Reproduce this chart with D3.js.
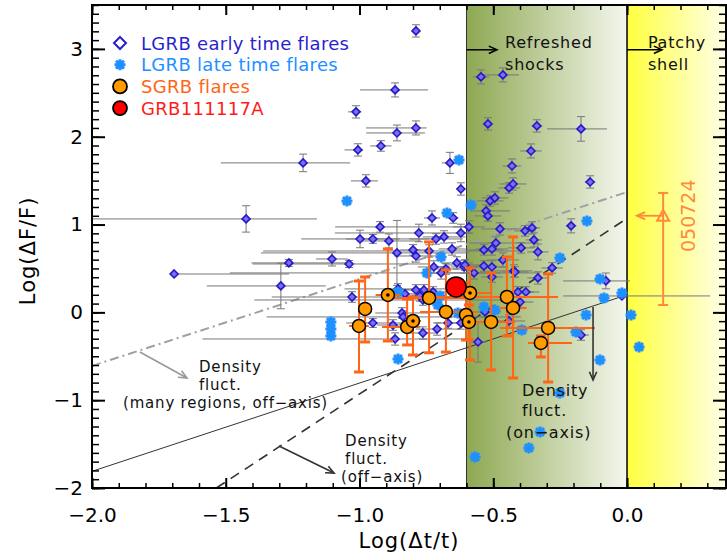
<!DOCTYPE html>
<html>
<head>
<meta charset="utf-8">
<script src="https://cdn.jsdelivr.net/npm/d3@7"></script>
<style>
  body { margin: 0; background: #fff; }
  svg { display: block; }
  text { font-family: "DejaVu Sans", sans-serif; }
</style>
</head>
<body>
<div id="chart"></div>
<script>
// --------------- Data --------------- //

// LGRB early time flares: [logDt/t, logDF/F, xErrMinus, xErrPlus, yErr]
const lgrbEarly = [
  [-0.789, 3.205, 0.01, 0.01, 0.07], [-0.867, 2.533, 0.131, 0.123, 0.08], [-1.013, 2.283, 0.03, 0.02, 0.07],
  [-0.546, 2.681, 0.03, 0.03, 0.08], [-0.464, 2.704, 0.09, 0.06, 0.08], [-1.006, 1.850, 0.05, 0.02, 0.07],
  [-0.860, 2.043, 0.115, 0.105, 0.09], [-0.789, 2.100, 0.187, 0.04, 0.08], [-0.920, 1.895, 0.04, 0.04, 0.06],
  [-0.976, 1.497, 0.056, 0.045, 0.07], [-1.211, 1.702, 0.307, 0.176, 0.10], [-1.424, 1.064, 0.576, 0.265, 0.15],
  [-0.662, 1.702, 0.03, 0.035, 0.12], [-0.621, 1.405, 0.015, 0.015, 0.07], [-0.520, 2.146, 0.02, 0.02, 0.07],
  [-0.337, 2.123, 0.02, 0.02, 0.07], [-0.172, 2.089, 0.127, 0.097, 0.14], [-0.359, 1.838, 0.04, 0.04, 0.08],
  [-0.430, 1.667, 0.035, 0.035, 0.08], [-0.138, 1.485, 0.02, 0.02, 0.07], [-0.441, 1.417, 0.04, 0.04, 0.06],
  [-0.426, 1.462, 0.05, 0.05, 0.07], [-0.512, 1.269, 0.05, 0.05, 0.06], [-0.494, 1.303, 0.05, 0.05, 0.07],
  [-0.527, 1.155, 0.06, 0.09, 0.07], [-0.520, 1.098, 0.05, 0.05, 0.06], [-0.591, 0.973, 0.06, 0.06, 0.07],
  [-0.475, 0.950, 0.07, 0.08, 0.07], [-0.381, 0.928, 0.04, 0.04, 0.06], [-0.355, 0.962, 0.03, 0.03, 0.07],
  [-0.209, 0.985, 0.02, 0.02, 0.08], [-0.348, 0.825, 0.03, 0.03, 0.08], [-0.490, 0.790, 0.10, 0.16, 0.07],
  [-0.396, 0.734, 0.05, 0.05, 0.06], [-0.333, 0.688, 0.04, 0.04, 0.09], [-0.729, 1.075, 0.03, 0.03, 0.08],
  [-0.650, 1.075, 0.02, 0.02, 0.06], [-0.923, 0.973, 0.168, 0.336, 0.06], [-0.778, 0.904, 0.314, 0.20, 0.10],
  [-0.621, 0.904, 0.02, 0.02, 0.10], [-0.998, 0.836, 0.22, 0.26, 0.10], [-0.950, 0.836, 0.10, 0.10, 0.05],
  [-0.890, 0.813, 0.12, 0.12, 0.08], [-0.714, 0.836, 0.10, 0.10, 0.06], [-0.684, 0.859, 0.08, 0.08, 0.07],
  [-0.860, 0.677, 0.508, 0.27, 0.37], [-0.800, 0.711, 0.05, 0.05, 0.06], [-0.789, 0.642, 0.08, 0.08, 0.07],
  [-0.740, 0.699, 0.62, 0.34, 0.07], [-0.654, 0.722, 0.05, 0.05, 0.07], [-1.103, 0.608, 0.06, 0.06, 0.08],
  [-1.264, 0.563, 0.14, 0.23, 0.04], [-1.039, 0.551, 0.36, 0.30, 0.04], [-1.294, 0.301, 0.277, 0.168, 0.26],
  [-1.693, 0.437, 0.0, 0.43, 0.0], [-0.722, 0.517, 0.06, 0.06, 0.07], [-0.677, 0.494, 0.05, 0.05, 0.06],
  [-0.695, 0.449, 0.79, 0.37, 0.07], [-0.636, 0.563, 0.06, 0.06, 0.07], [-0.609, 0.517, 0.05, 0.05, 0.07],
  [-0.856, 0.267, 0.20, 0.20, 0.06], [-0.535, 0.711, 0.07, 0.07, 0.06], [-0.505, 0.722, 0.06, 0.06, 0.07],
  [-0.464, 0.597, 0.06, 0.06, 0.08], [-0.423, 0.472, 0.07, 0.07, 0.07], [-0.606, 0.540, 0.08, 0.08, 0.06],
  [-0.572, 0.449, 0.10, 0.10, 0.07], [-0.535, 0.528, 0.05, 0.05, 0.06], [-0.505, 0.517, 0.06, 0.06, 0.07],
  [-0.419, 0.460, 0.05, 0.05, 0.06], [-0.505, 0.403, 0.04, 0.04, 0.06], [-0.333, 0.392, 0.04, 0.04, 0.07],
  [-0.280, 0.506, 0.04, 0.04, 0.06], [-0.408, 0.232, 0.06, 0.06, 0.06], [-0.378, 0.232, 0.05, 0.05, 0.06],
  [-0.400, 0.118, 0.05, 0.05, 0.06], [-0.531, 0.005, 0.06, 0.06, 0.06], [-0.441, -0.098, 0.06, 0.06, 0.07],
  [-0.557, -0.337, 0.03, 0.03, 0.23], [-0.079, 0.358, 0.16, 0.09, 0.09], [-0.172, -0.258, 0.03, 0.03, 0.06],
  [-0.019, 0.187, 0.22, 0.33, 0.0], [-0.621, -0.121, 0.04, 0.04, 0.07], [-0.669, -0.121, 0.05, 0.05, 0.06],
  [-0.763, -0.235, 0.05, 0.05, 0.07], [-0.867, -0.303, 0.72, 0.28, 0.07], [-0.841, -0.007, 0.10, 0.10, 0.06],
  [-0.759, 0.255, 0.05, 0.05, 0.06], [-0.725, 0.232, 0.05, 0.05, 0.06], [-1.028, 0.175, 0.30, 0.30, 0.06],
  [-0.830, 0.210, 0.05, 0.05, 0.05], [-0.774, 0.187, 0.05, 0.05, 0.06], [-0.763, 0.141, 0.63, 0.29, 0.06],
  [-0.837, -0.052, 0.51, 0.44, 0.07], [-0.950, -0.121, 0.10, 0.10, 0.05], [-0.875, -0.144, 0.06, 0.06, 0.06],
  [-0.710, -0.190, 0.08, 0.08, 0.07], [-0.789, 0.255, 0.05, 0.05, 0.06]
];

// LGRB late time flares: [logDt/t, logDF/F]
const lgrbLate = [
  [-1.047, 1.269], [-0.628, 1.736], [-0.673, 1.132], [-0.583, 1.223], [-0.150, 1.041], [-0.251, 0.620],
  [-0.695, 0.631], [-0.748, 0.449], [-0.699, 0.187], [-0.707, 0.084], [-0.535, 0.061], [-0.494, 0.027],
  [-0.393, -0.201], [-0.191, -0.224], [-0.153, -0.030], [-0.086, 0.164], [-0.019, 0.221], [0.015, -0.030],
  [0.045, -0.394], [-0.101, -0.542], [-0.251, -0.918], [-0.325, -1.362], [-0.367, -1.544], [-0.568, -1.647],
  [-0.856, -0.531], [-1.107, -0.11], [-1.107, -0.19], [-1.107, -0.27], [-0.101, 0.381], [-0.632, -0.007],
  [-0.856, 0.232]
];

// SGRB flares: [x, y, xLow, xHigh, yLow, yHigh, centreDot]
const sgrb = [
  [-1.002, -0.155, -1.039, -0.965, -0.679, 0.357, 0],
  [-0.979, 0.039, -1.000, -0.960, -0.337, 0.403, 0],
  [-0.894, 0.198, -0.940, -0.850, -0.326, 0.722, 1],
  [-0.822, -0.166, -0.916, -0.774, -0.371, 0.153, 0],
  [-0.800, -0.098, -0.830, -0.770, -0.485, 0.175, 1],
  [-0.740, 0.164, -0.880, -0.600, -0.460, 0.802, 0],
  [-0.677, 0.005, -0.774, -0.561, -0.452, 0.483, 0],
  [-0.602, -0.030, -0.630, -0.570, -0.315, 0.335, 0],
  [-0.587, 0.221, -0.654, -0.512, -0.542, 0.506, 1],
  [-0.591, -0.109, -0.620, -0.560, -0.310, 0.084, 1],
  [-0.508, -0.109, -0.568, -0.419, -0.656, 0.449, 0],
  [-0.449, 0.175, -0.736, -0.258, -0.269, 0.631, 0],
  [-0.426, 0.050, -0.476, -0.376, -0.747, 0.859, 0],
  [-0.295, -0.177, -0.475, -0.120, -0.793, 0.437, 0],
  [-0.322, -0.348, -0.370, -0.206, -0.508, -0.269, 0]
];

// GRB111117A
const grb111117a = [-0.639, 0.29];

// GRB 050724: [x, y, xUpperLimit, yLow, yHigh]
const grb050724 = [0.135, 1.10, 0.037, 0.084, 1.36];

// model lines (endpoints)
const lineManyRegions = [[-2, -0.61], [0, 1.37]];
const lineOnAxis = [[-2, -1.81], [0, 0.2]];
const lineOffAxis = [[-1.535, -2], [0, 1.07]];

// shaded regimes
const refreshedRange = [-0.6, 0.0];
const patchyRange = [0.0, 0.37];

// ticks
const xMajor = [-2, -1.5, -1, -0.5, 0];
const yMajor = [-2, -1, 0, 1, 2, 3];

// --------------- Basic Setup --------------- //

const width = 727, height = 560;

const svg = d3.select("#chart")
    .append("svg")
    .attr("width", width)
    .attr("height", height);

const x = d3.scaleLinear().domain([-2, 0.37]).range([92, 726]);
const y = d3.scaleLinear().domain([-2, 3.5]).range([488, 5]);

const defs = svg.append("defs");
const gGreen = defs.append("linearGradient").attr("id", "gGreen");
gGreen.append("stop").attr("offset", 0).attr("stop-color", "#8ea852");
gGreen.append("stop").attr("offset", 1).attr("stop-color", "#f4f7ee");
const gYellow = defs.append("linearGradient").attr("id", "gYellow");
gYellow.append("stop").attr("offset", 0).attr("stop-color", "#ffff40");
gYellow.append("stop").attr("offset", 1).attr("stop-color", "#ffffe8");
defs.append("clipPath").attr("id", "plotClip")
    .append("rect")
    .attr("x", x(-2)).attr("y", y(3.5))
    .attr("width", x(0.37) - x(-2)).attr("height", y(-2) - y(3.5));

// --------------- Background regions --------------- //

svg.append("rect")
    .attr("x", x(refreshedRange[0])).attr("y", y(3.5))
    .attr("width", x(refreshedRange[1]) - x(refreshedRange[0]))
    .attr("height", y(-2) - y(3.5))
    .attr("fill", "url(#gGreen)");
svg.append("rect")
    .attr("x", x(patchyRange[0])).attr("y", y(3.5))
    .attr("width", x(patchyRange[1]) - x(patchyRange[0]))
    .attr("height", y(-2) - y(3.5))
    .attr("fill", "url(#gYellow)");
svg.append("line")
    .attr("x1", x(-0.6)).attr("x2", x(-0.6)).attr("y1", y(3.5)).attr("y2", y(-2))
    .attr("stroke", "#333").attr("stroke-width", 1);
svg.append("line")
    .attr("x1", x(0)).attr("x2", x(0)).attr("y1", y(3.5)).attr("y2", y(-2))
    .attr("stroke", "#000").attr("stroke-width", 1.5);

const plot = svg.append("g").attr("clip-path", "url(#plotClip)");

// --------------- Model lines --------------- //

const line = d3.line().x(d => x(d[0])).y(d => y(d[1]));
plot.append("path").attr("d", line(lineManyRegions))
    .attr("fill", "none").attr("stroke", "#a0a0a0").attr("stroke-width", 2)
    .attr("stroke-dasharray", "9,4,2,4");
plot.append("path").attr("d", line(lineOnAxis))
    .attr("fill", "none").attr("stroke", "#333").attr("stroke-width", 1);
plot.append("path").attr("d", line(lineOffAxis))
    .attr("fill", "none").attr("stroke", "#333").attr("stroke-width", 1.6)
    .attr("stroke-dasharray", "10,7");

// --------------- LGRB early: error bars + diamonds --------------- //

const eb = plot.append("g").attr("stroke", "#777").attr("stroke-width", 1);
for (const d of lgrbEarly) {
    eb.append("line")
        .attr("x1", x(d[0] - d[2])).attr("x2", x(d[0] + d[3]))
        .attr("y1", y(d[1])).attr("y2", y(d[1]));
    if (d[4] > 0) {
        const top = y(d[1] + d[4]), bot = y(d[1] - d[4]), cx = x(d[0]);
        eb.append("line").attr("x1", cx).attr("x2", cx).attr("y1", top).attr("y2", bot);
        eb.append("line").attr("x1", cx - 4).attr("x2", cx + 4).attr("y1", top).attr("y2", top);
        eb.append("line").attr("x1", cx - 4).attr("x2", cx + 4).attr("y1", bot).attr("y2", bot);
    }
}

const diamond = r => `M0,${-r}L${r},0L0,${r}L${-r},0Z`;
plot.append("g").selectAll("path")
    .data(lgrbEarly)
    .join("path")
    .attr("d", diamond(4))
    .attr("transform", d => `translate(${x(d[0])},${y(d[1])})`)
    .attr("fill", "#7b6ef0").attr("stroke", "#2418c8").attr("stroke-width", 1.6);

// --------------- LGRB late: asterisks --------------- //

const asterisk = r => {
    const k = r * 0.72;
    return `M${-r},0L${r},0M0,${-r}L0,${r}M${-k},${-k}L${k},${k}M${-k},${k}L${k},${-k}`;
};
plot.append("g").selectAll("path")
    .data(lgrbLate)
    .join("path")
    .attr("d", asterisk(5.5))
    .attr("transform", d => `translate(${x(d[0])},${y(d[1])})`)
    .attr("fill", "none").attr("stroke", "#1e90ff").attr("stroke-width", 3);

// --------------- SGRB flares --------------- //

const orange = "#ff6516";
const sb = plot.append("g").attr("stroke", orange).attr("stroke-width", 2);
for (const d of sgrb) {
    const cx = x(d[0]), cy = y(d[1]);
    sb.append("line").attr("x1", x(d[2])).attr("x2", x(d[3])).attr("y1", cy).attr("y2", cy);
    sb.append("line").attr("x1", cx).attr("x2", cx).attr("y1", y(d[5])).attr("y2", y(d[4]));
    for (const v of [d[4], d[5]]) {
        sb.append("line").attr("x1", cx - 5).attr("x2", cx + 5).attr("y1", y(v)).attr("y2", y(v))
            .attr("stroke-width", 3);
    }
}
plot.append("g").selectAll("circle")
    .data(sgrb)
    .join("circle")
    .attr("cx", d => x(d[0])).attr("cy", d => y(d[1]))
    .attr("r", 6.5)
    .attr("fill", "#ff9a00").attr("stroke", "#000").attr("stroke-width", 1.5);
plot.append("g").selectAll("circle")
    .data(sgrb.filter(d => d[6]))
    .join("circle")
    .attr("cx", d => x(d[0])).attr("cy", d => y(d[1]))
    .attr("r", 1.8).attr("fill", "#000");

// GRB111117A
plot.append("circle")
    .attr("cx", x(grb111117a[0])).attr("cy", y(grb111117a[1]))
    .attr("r", 10)
    .attr("fill", "#ff0000").attr("stroke", "#000").attr("stroke-width", 1.5);

// --------------- Arrows helper --------------- //

function arrow(g, x1, y1, x2, y2, color, w) {
    const a = Math.atan2(y2 - y1, x2 - x1), L = 9, s = 0.42;
    g.append("line").attr("x1", x1).attr("y1", y1).attr("x2", x2).attr("y2", y2)
        .attr("stroke", color).attr("stroke-width", w);
    g.append("path")
        .attr("d", `M${x2 - L * Math.cos(a - s)},${y2 - L * Math.sin(a - s)}L${x2},${y2}L${x2 - L * Math.cos(a + s)},${y2 - L * Math.sin(a + s)}`)
        .attr("fill", "none").attr("stroke", color).attr("stroke-width", w);
}

// GRB 050724
const light = "#ff8a3d";
const g05 = svg.append("g");
{
    const [px, py, xl, ylo, yhi] = grb050724;
    g05.append("line").attr("x1", x(px)).attr("x2", x(px)).attr("y1", y(yhi)).attr("y2", y(ylo))
        .attr("stroke", light).attr("stroke-width", 2);
    for (const v of [ylo, yhi]) {
        g05.append("line").attr("x1", x(px) - 5).attr("x2", x(px) + 5).attr("y1", y(v)).attr("y2", y(v))
            .attr("stroke", light).attr("stroke-width", 2);
    }
    arrow(g05, x(px), y(py), x(xl), y(py), light, 1.8);
    g05.append("path")
        .attr("d", "M0,-6L6,5L-6,5Z")
        .attr("transform", `translate(${x(px)},${y(py)})`)
        .attr("fill", "none").attr("stroke", light).attr("stroke-width", 2);
    g05.append("text")
        .attr("transform", `translate(${x(0.224) + 8},${y(py)}) rotate(-90)`)
        .attr("text-anchor", "middle")
        .attr("font-size", 19)
        .attr("fill", light)
        .text("050724");
}

// --------------- Annotations --------------- //

const ann = svg.append("g");
arrow(ann, x(-0.6), y(2.99), x(-0.486), y(2.99), "#000", 1.5);
arrow(ann, x(0), y(2.99), x(0.131), y(2.99), "#000", 1.5);
arrow(ann, x(-1.821), y(-0.451), x(-1.645), y(-0.747), "#999", 1.6);
arrow(ann, x(-1.301), y(-1.522), x(-1.095), y(-1.83), "#333", 1.6);
arrow(ann, x(-0.127), y(0.06), x(-0.127), y(-0.77), "#333", 1.6);

// [text, x, y, font size]
const annotations = [
    ["Refreshed", -0.456, 3.01, 16], ["shocks", -0.456, 2.76, 16],
    ["Patchy", 0.078, 3.01, 16], ["shell", 0.078, 2.76, 16],
    ["Density", -1.60, -0.68, 15], ["fluct.", -1.60, -0.885, 15], ["(many regions, off\u2212axis)", -1.884, -1.09, 15],
    ["Density", -1.054, -1.52, 15], ["fluct.", -1.054, -1.725, 15], ["(off\u2212axis)", -1.069, -1.93, 15],
    ["Density", -0.393, -0.952, 16], ["fluct.", -0.393, -1.18, 16], ["(on\u2212axis)", -0.452, -1.43, 16]
];
ann.selectAll("text")
    .data(annotations)
    .join("text")
    .attr("x", d => x(d[1])).attr("y", d => y(d[2]))
    .attr("font-size", d => d[3])
    .attr("letter-spacing", 0.8)
    .attr("fill", "#111")
    .text(d => d[0]);

// --------------- Axes --------------- //

const xMinor = d3.range(-20, 4).map(v => v / 10);
const yMinor = d3.range(-20, 36).map(v => v / 10);
const styleTicks = (g, w) => {
    g.select(".domain").remove();
    g.selectAll(".tick line").attr("stroke", "#000").attr("stroke-width", w);
    g.selectAll(".tick text").attr("font-size", 20).attr("fill", "#000")
        .attr("font-family", "DejaVu Sans, sans-serif");
};

svg.append("g").attr("transform", `translate(0,${y(-2)})`)
    .call(d3.axisBottom(x).tickValues(xMinor).tickFormat("").tickSize(-5).tickSizeOuter(0))
    .call(g => styleTicks(g, 1.5));
svg.append("g").attr("transform", `translate(0,${y(-2)})`)
    .call(d3.axisBottom(x).tickValues(xMajor).tickFormat(d3.format(".1f")).tickSize(-10).tickPadding(20).tickSizeOuter(0))
    .call(g => styleTicks(g, 2));
svg.append("g").attr("transform", `translate(0,${y(3.5)})`)
    .call(d3.axisTop(x).tickValues(xMinor).tickFormat("").tickSize(-5).tickSizeOuter(0))
    .call(g => styleTicks(g, 1.5));
svg.append("g").attr("transform", `translate(0,${y(3.5)})`)
    .call(d3.axisTop(x).tickValues(xMajor).tickFormat("").tickSize(-10).tickSizeOuter(0))
    .call(g => styleTicks(g, 2));

svg.append("g").attr("transform", `translate(${x(-2)},0)`)
    .call(d3.axisLeft(y).tickValues(yMinor).tickFormat("").tickSize(-7).tickSizeOuter(0))
    .call(g => styleTicks(g, 1.5));
svg.append("g").attr("transform", `translate(${x(-2)},0)`)
    .call(d3.axisLeft(y).tickValues(yMajor).tickFormat(d3.format("d")).tickSize(-13).tickPadding(9).tickSizeOuter(0))
    .call(g => styleTicks(g, 2));
svg.append("g").attr("transform", `translate(${x(0.37)},0)`)
    .call(d3.axisRight(y).tickValues(yMinor).tickFormat("").tickSize(-7).tickSizeOuter(0))
    .call(g => styleTicks(g, 1.5));
svg.append("g").attr("transform", `translate(${x(0.37)},0)`)
    .call(d3.axisRight(y).tickValues(yMajor).tickFormat("").tickSize(-13).tickSizeOuter(0))
    .call(g => styleTicks(g, 2));

// frame
svg.append("rect")
    .attr("x", x(-2)).attr("y", y(3.5))
    .attr("width", x(0.37) - x(-2)).attr("height", y(-2) - y(3.5))
    .attr("fill", "none").attr("stroke", "#000").attr("stroke-width", 2);

// axis titles
svg.append("text")
    .attr("x", (x(-2) + x(0.37)) / 2).attr("y", 548)
    .attr("text-anchor", "middle").attr("font-size", 21).attr("letter-spacing", 1)
    .text("Log(\u0394t/t)");
svg.append("text")
    .attr("transform", `translate(35,${y(0.7)}) rotate(-90)`)
    .attr("text-anchor", "middle").attr("font-size", 21).attr("letter-spacing", 1)
    .text("Log(\u0394F/F)");

// --------------- Legend --------------- //

const legendItems = [
    ["LGRB early time flares", "#2a1fcf"],
    ["LGRB late time flares", "#1e90ff"],
    ["SGRB flares", "#ff6516"],
    ["GRB111117A", "#ff1a1a"]
];
const legend = svg.append("g").attr("transform", "translate(120,43)");
legendItems.forEach((d, i) => {
    const row = legend.append("g").attr("transform", `translate(0,${i * 21.7})`);
    if (i === 0) {
        row.append("path").attr("d", diamond(6)).attr("fill", "#fff")
            .attr("stroke", d[1]).attr("stroke-width", 2);
    } else if (i === 1) {
        row.append("path").attr("d", asterisk(5.5)).attr("fill", "none")
            .attr("stroke", d[1]).attr("stroke-width", 3);
    } else {
        row.append("circle").attr("r", 7)
            .attr("fill", i === 2 ? "#ff9a00" : "#ff0000")
            .attr("stroke", "#000").attr("stroke-width", 1.8);
    }
    row.append("text").attr("x", 21).attr("y", 6.5)
        .attr("font-size", 18).attr("letter-spacing", 0.3).attr("fill", d[1])
        .text(d[0]);
});
</script>
</body>
</html>
